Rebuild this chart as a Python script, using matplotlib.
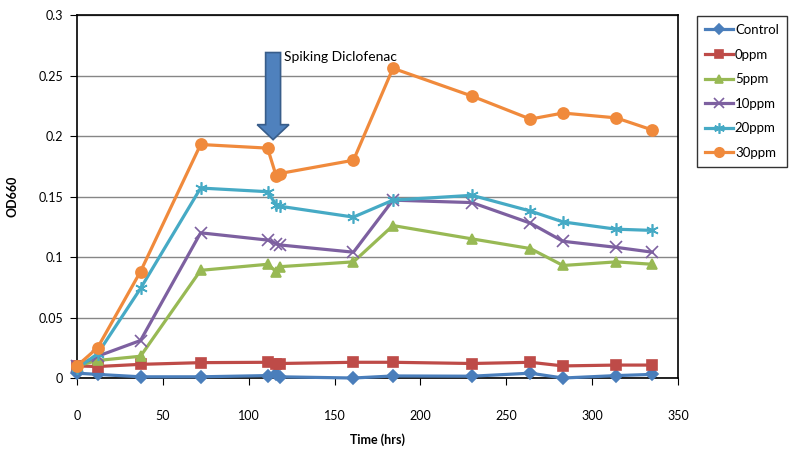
import matplotlib.pyplot as plt
import matplotlib.patches as mpatches

plt.rcParams['font.family'] = ['Lato', 'DejaVu Sans']

# data
time_hrs = [0, 12, 37, 72, 111, 116, 118, 161, 184, 230, 264, 283, 314, 335]
control = [0.004, 0.003, 0.001, 0.001, 0.002, 0.003, 0.001, 0.0, 0.0017, 0.0015, 0.004, 0.0, 0.002, 0.003]
ppm0 = [0.010, 0.0095, 0.0113, 0.0127, 0.013, 0.012, 0.012, 0.013, 0.013, 0.012, 0.013, 0.010, 0.0107, 0.0107]
ppm5 = [0.010, 0.0145, 0.018, 0.089, 0.094, 0.088, 0.092, 0.096, 0.126, 0.115, 0.107, 0.093, 0.096, 0.094]
ppm10 = [0.010, 0.018, 0.031, 0.120, 0.114, 0.111, 0.110, 0.104, 0.147, 0.145, 0.128, 0.113, 0.108, 0.104]
ppm20 = [0.008, 0.020, 0.074, 0.157, 0.154, 0.143, 0.142, 0.133, 0.147, 0.151, 0.138, 0.129, 0.123, 0.122]
ppm30 = [0.010, 0.025, 0.088, 0.193, 0.190, 0.167, 0.169, 0.180, 0.256, 0.233, 0.214, 0.219, 0.215, 0.205]

series_names = ['Control', '0ppm', '5ppm', '10ppm', '20ppm', '30ppm']
series_vals = [control, ppm0, ppm5, ppm10, ppm20, ppm30]

# styles
colors = ['#4A7EBB', '#BE4B48', '#98B954', '#7D60A0', '#46AAC5', '#F08A3C']
markers = ['D', 's', '^', 'x', (6, 2, 0), 'o']
msizes = [6, 7.5, 7.5, 8, 9, 8]

fig = plt.figure(figsize=(7.96, 4.61), dpi=100)
ax = fig.add_axes([0.0967, 0.180, 0.7551, 0.7874])

for name, vals, c, m, ms in zip(series_names, series_vals, colors, markers, msizes):
    ax.plot(time_hrs, vals, color=c, lw=2.3, marker=m, markersize=ms,
            markeredgecolor=c, markerfacecolor=c, markeredgewidth=1.2,
            label=name, clip_on=False, zorder=3)

ax.set_xlim(0, 350)
ax.set_ylim(0, 0.3)
ax.set_xticks(range(0, 351, 50))
ax.set_yticks([0, 0.05, 0.1, 0.15, 0.2, 0.25, 0.3])
ax.set_yticklabels(['0', '0.05', '0.1', '0.15', '0.2', '0.25', '0.3'])
ax.yaxis.grid(True, color='#868686', lw=1)
ax.set_axisbelow(True)
for s in ax.spines.values():
    s.set_color('black')
    s.set_linewidth(1.2)
ax.tick_params(axis='x', direction='out', length=5, pad=18, labelsize=9)
ax.tick_params(axis='y', direction='out', length=5, pad=5, labelsize=9)

ax.set_xlabel('Time (hrs)', fontsize=9, fontweight='bold', labelpad=8)
ax.set_ylabel('OD660', fontsize=9, fontweight='bold', labelpad=14)

# spiking arrow
arrow = mpatches.FancyArrow(114.2, 0.269, 0, -0.072, width=8.7, head_width=18.5,
                            head_length=0.0124, length_includes_head=True,
                            facecolor='#4F81BD', edgecolor='#385D8A', lw=1.2, zorder=4)
ax.add_patch(arrow)
ax.text(120.5, 0.2655, 'Spiking Diclofenac', fontsize=10, ha='left', va='center', zorder=5)

leg = fig.legend(loc='upper left', bbox_to_anchor=(0.876, 0.965), fontsize=9.5,
                 frameon=True, fancybox=False, edgecolor='black', borderpad=0.6,
                 labelspacing=0.95, handlelength=2.1, handletextpad=0.15,
                 borderaxespad=0, markerscale=0.85)
leg.get_frame().set_linewidth(1.0)

fig.savefig('out.png', dpi=100, facecolor='white')
